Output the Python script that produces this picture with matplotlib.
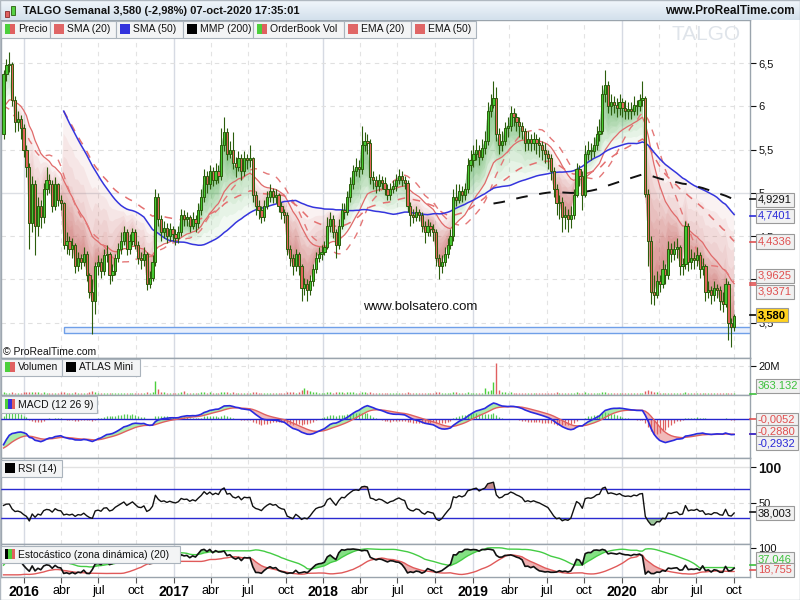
import numpy as np
import pandas as pd
import matplotlib
matplotlib.use("Agg")
import matplotlib.pyplot as plt
import matplotlib.dates as mdates
from matplotlib.patches import Rectangle
from matplotlib.lines import Line2D
from datetime import date, timedelta

plt.rcParams["font.family"] = ["Liberation Sans", "DejaVu Sans"]

# semanas anteriores al primer velón visible (solo para calentar los indicadores)
pre_close = [8.0, 7.8, 7.6, 7.4, 7.3, 7.2, 7.1, 7.0, 7.0, 7.0, 6.9, 6.9, 6.8, 6.8,
             6.6, 6.3, 6.4, 6.3, 6.1, 6.0, 5.7, 5.3, 5.0, 4.9, 5.0, 5.1, 5.3, 5.5]

opens = [
    5.68, 6.38, 6.48, 6.49, 6.07, 5.82, 5.85, 5.75, 5.50, 5.30,
    4.65, 5.10, 4.62, 4.85, 4.72, 5.05, 5.15, 5.10, 4.85, 5.10,
    4.92, 4.88, 4.40, 4.45, 4.35, 4.40, 4.15, 4.25, 4.20, 4.30,
    4.05, 3.85, 3.75, 4.15, 4.20, 4.10, 4.28, 4.30, 4.05, 4.10,
    4.25, 4.35, 4.45, 4.55, 4.35, 4.45, 4.55, 4.40, 4.25, 4.22,
    4.30, 3.95, 4.02, 4.20, 4.95, 4.70, 4.55, 4.60, 4.50, 4.58,
    4.52, 4.48, 4.55, 4.75, 4.70, 4.72, 4.62, 4.70, 4.65, 4.80,
    4.95, 5.20, 5.10, 5.25, 5.15, 5.25, 5.20, 5.55, 5.70, 5.45,
    5.50, 5.35, 5.30, 5.40, 5.25, 5.40, 5.38, 5.40, 4.98, 4.85,
    4.80, 4.72, 4.85, 4.95, 5.02, 4.95, 4.98, 4.85, 4.78, 4.75,
    4.35, 4.25, 4.15, 4.30, 4.15, 3.90, 3.95, 3.88, 3.98, 4.12,
    4.25, 4.30, 4.32, 4.38, 4.62, 4.70, 4.55, 4.40, 4.62, 4.80,
    4.78, 4.95, 5.10, 5.25, 5.30, 5.28, 5.55, 5.60, 5.58, 5.18,
    5.15, 5.08, 5.15, 5.12, 5.05, 4.98, 5.05, 5.08, 5.15, 5.20,
    5.15, 5.12, 4.85, 4.75, 4.72, 4.78, 4.75, 4.62, 4.55, 4.62,
    4.58, 4.55, 4.25, 4.15, 4.20, 4.30, 4.40, 4.50, 4.95, 4.92,
    5.02, 4.98, 5.05, 5.32, 5.38, 5.45, 5.50, 5.42, 5.52, 5.60,
    5.95, 6.02, 6.10, 5.68, 5.55, 5.60, 5.75, 5.78, 5.92, 5.88,
    5.82, 5.78, 5.72, 5.58, 5.62, 5.58, 5.62, 5.58, 5.55, 5.50,
    5.45, 5.40, 5.25, 5.05, 4.88, 4.90, 4.72, 4.75, 4.70, 4.75,
    4.98, 5.28, 5.20, 4.98, 5.45, 5.50, 5.48, 5.55, 5.68, 5.72,
    6.15, 6.25, 6.00, 6.05, 6.02, 5.98, 6.05, 5.98, 5.95, 5.97,
    5.95, 6.02, 6.00, 6.08, 6.10, 4.99, 4.45, 3.85, 3.82, 3.98,
    3.95, 4.12, 4.05, 4.35, 4.30, 4.35, 4.38, 4.15, 4.18, 4.62,
    4.20, 4.25, 4.22, 4.28, 4.12, 4.15, 3.85, 3.88, 3.82, 3.90,
    3.88, 3.75, 3.72, 3.95, 3.50, 3.45]

closes = [
    6.38, 6.48, 6.49, 6.07, 5.82, 5.85, 5.75, 5.50, 5.30, 4.65,
    5.10, 4.62, 4.85, 4.72, 5.05, 5.15, 5.10, 4.85, 5.10, 4.92,
    4.88, 4.40, 4.45, 4.35, 4.40, 4.15, 4.25, 4.20, 4.30, 4.05,
    3.85, 3.75, 4.15, 4.20, 4.10, 4.28, 4.30, 4.05, 4.10, 4.25,
    4.35, 4.45, 4.55, 4.35, 4.45, 4.55, 4.40, 4.25, 4.22, 4.30,
    3.95, 4.02, 4.20, 4.95, 4.70, 4.55, 4.60, 4.50, 4.58, 4.52,
    4.48, 4.55, 4.75, 4.70, 4.72, 4.62, 4.70, 4.65, 4.80, 4.95,
    5.20, 5.10, 5.25, 5.15, 5.25, 5.20, 5.55, 5.70, 5.45, 5.50,
    5.35, 5.30, 5.40, 5.25, 5.40, 5.38, 5.40, 4.98, 4.85, 4.80,
    4.72, 4.85, 4.95, 5.02, 4.95, 4.98, 4.85, 4.78, 4.75, 4.35,
    4.25, 4.15, 4.30, 4.15, 3.90, 3.95, 3.88, 3.98, 4.12, 4.25,
    4.30, 4.32, 4.38, 4.62, 4.70, 4.55, 4.40, 4.62, 4.80, 4.78,
    4.95, 5.10, 5.25, 5.30, 5.28, 5.55, 5.60, 5.58, 5.18, 5.15,
    5.08, 5.15, 5.12, 5.05, 4.98, 5.05, 5.08, 5.15, 5.20, 5.15,
    5.12, 4.85, 4.75, 4.72, 4.78, 4.75, 4.62, 4.55, 4.62, 4.58,
    4.55, 4.25, 4.15, 4.20, 4.30, 4.40, 4.50, 4.95, 4.92, 5.02,
    4.98, 5.05, 5.32, 5.38, 5.45, 5.50, 5.42, 5.52, 5.60, 5.95,
    6.02, 6.10, 5.68, 5.55, 5.60, 5.75, 5.78, 5.92, 5.88, 5.82,
    5.78, 5.72, 5.58, 5.62, 5.58, 5.62, 5.58, 5.55, 5.50, 5.45,
    5.40, 5.25, 5.05, 4.88, 4.90, 4.72, 4.75, 4.70, 4.75, 4.98,
    5.28, 5.20, 4.98, 5.45, 5.50, 5.48, 5.55, 5.68, 5.72, 6.15,
    6.25, 6.00, 6.05, 6.02, 5.98, 6.05, 5.98, 5.95, 5.97, 5.95,
    6.02, 6.00, 6.08, 6.10, 4.99, 4.45, 3.85, 3.82, 3.98, 3.95,
    4.12, 4.05, 4.35, 4.30, 4.35, 4.38, 4.15, 4.18, 4.62, 4.20,
    4.25, 4.22, 4.28, 4.12, 4.15, 3.85, 3.88, 3.82, 3.90, 3.88,
    3.75, 3.72, 3.95, 3.50, 3.45, 3.58]

highs = [
    6.42, 6.55, 6.63, 6.52, 6.12, 5.95, 5.90, 5.80, 5.55, 5.35,
    5.20, 5.15, 4.95, 4.92, 5.12, 5.30, 5.22, 5.15, 5.18, 5.12,
    4.98, 4.90, 4.55, 4.50, 4.48, 4.42, 4.32, 4.30, 4.38, 4.33,
    4.08, 4.00, 4.20, 4.28, 4.25, 4.35, 4.40, 4.32, 4.18, 4.30,
    4.42, 4.55, 4.62, 4.58, 4.52, 4.60, 4.58, 4.45, 4.32, 4.38,
    4.32, 4.10, 4.28, 5.05, 5.00, 4.75, 4.68, 4.65, 4.65, 4.62,
    4.58, 4.62, 4.82, 4.80, 4.78, 4.75, 4.78, 4.74, 4.88, 5.05,
    5.28, 5.25, 5.32, 5.30, 5.35, 5.32, 5.75, 5.88, 5.75, 5.60,
    5.70, 5.42, 5.48, 5.45, 5.48, 5.45, 5.55, 5.42, 5.02, 4.92,
    4.85, 4.92, 5.02, 5.10, 5.06, 5.05, 5.00, 4.90, 4.82, 4.78,
    4.40, 4.30, 4.35, 4.32, 4.18, 4.02, 4.00, 4.05, 4.18, 4.32,
    4.38, 4.40, 4.45, 4.72, 4.78, 4.74, 4.58, 4.70, 4.88, 4.88,
    5.02, 5.18, 5.32, 5.40, 5.38, 5.78, 5.70, 5.68, 5.62, 5.25,
    5.20, 5.22, 5.20, 5.18, 5.10, 5.12, 5.15, 5.22, 5.28, 5.25,
    5.20, 5.15, 4.90, 4.82, 4.85, 4.82, 4.78, 4.68, 4.70, 4.66,
    4.64, 4.58, 4.30, 4.28, 4.38, 4.48, 4.58, 5.05, 5.10, 5.10,
    5.08, 5.12, 5.40, 5.50, 5.55, 5.62, 5.55, 5.62, 5.72, 6.05,
    6.15, 6.30, 6.22, 5.75, 5.72, 5.82, 5.88, 6.00, 5.98, 5.92,
    5.88, 5.82, 5.75, 5.72, 5.68, 5.70, 5.68, 5.65, 5.60, 5.58,
    5.50, 5.45, 5.30, 5.10, 4.98, 4.95, 4.85, 4.82, 4.85, 5.05,
    5.35, 5.32, 5.25, 5.55, 5.60, 5.58, 5.65, 5.78, 5.85, 6.25,
    6.42, 6.30, 6.15, 6.12, 6.10, 6.15, 6.10, 6.08, 6.05, 6.05,
    6.12, 6.08, 6.15, 6.30, 6.12, 5.05, 4.50, 4.05, 4.10, 4.05,
    4.22, 4.18, 4.45, 4.42, 4.45, 4.48, 4.40, 4.25, 4.68, 4.65,
    4.35, 4.32, 4.38, 4.32, 4.25, 4.18, 3.98, 3.92, 3.98, 3.95,
    3.92, 3.85, 4.02, 3.98, 3.55, 3.60]

lows = [
    5.62, 6.30, 6.40, 6.00, 5.70, 5.72, 5.62, 5.42, 5.18, 4.35,
    4.55, 4.28, 4.50, 4.60, 4.65, 4.98, 5.00, 4.78, 4.80, 4.85,
    4.80, 4.35, 4.30, 4.28, 4.25, 4.08, 4.10, 4.12, 4.15, 3.98,
    3.78, 3.37, 3.60, 4.05, 4.02, 4.05, 4.20, 3.95, 3.98, 4.05,
    4.20, 4.30, 4.40, 4.28, 4.30, 4.40, 4.35, 4.18, 4.12, 4.15,
    3.88, 3.90, 3.98, 4.15, 4.62, 4.45, 4.48, 4.42, 4.45, 4.45,
    4.40, 4.42, 4.50, 4.62, 4.62, 4.55, 4.58, 4.55, 4.60, 4.75,
    4.90, 5.00, 5.05, 5.08, 5.10, 5.12, 5.15, 5.48, 5.38, 5.40,
    5.28, 5.18, 5.25, 5.15, 5.20, 5.28, 5.30, 4.90, 4.75, 4.70,
    4.65, 4.68, 4.82, 4.90, 4.88, 4.88, 4.78, 4.70, 4.65, 4.28,
    4.15, 4.05, 4.10, 4.05, 3.75, 3.82, 3.75, 3.82, 3.92, 4.08,
    4.20, 4.22, 4.28, 4.35, 4.55, 4.48, 4.25, 4.35, 4.58, 4.70,
    4.75, 4.90, 5.05, 5.20, 5.18, 5.22, 5.48, 5.45, 5.10, 5.05,
    5.00, 5.02, 5.05, 4.98, 4.92, 4.92, 5.00, 5.02, 5.10, 5.08,
    5.05, 4.78, 4.62, 4.65, 4.68, 4.68, 4.55, 4.42, 4.50, 4.50,
    4.45, 4.15, 4.00, 4.08, 4.15, 4.25, 4.35, 4.45, 4.85, 4.88,
    4.90, 4.92, 5.00, 5.25, 5.30, 5.38, 5.32, 5.38, 5.45, 5.55,
    5.88, 5.98, 5.60, 5.45, 5.48, 5.55, 5.65, 5.72, 5.78, 5.72,
    5.65, 5.62, 5.48, 5.50, 5.48, 5.50, 5.45, 5.42, 5.38, 5.35,
    5.28, 5.15, 4.95, 4.75, 4.70, 4.55, 4.58, 4.55, 4.60, 4.70,
    4.95, 5.08, 4.80, 4.95, 5.38, 5.38, 5.42, 5.50, 5.60, 5.68,
    6.05, 5.92, 5.90, 5.92, 5.88, 5.90, 5.88, 5.85, 5.86, 5.85,
    5.90, 5.90, 5.95, 6.00, 4.95, 4.15, 3.72, 3.70, 3.78, 3.85,
    3.90, 3.95, 4.00, 4.20, 4.22, 4.25, 4.05, 4.05, 4.12, 4.10,
    4.12, 4.12, 4.15, 4.02, 4.05, 3.75, 3.78, 3.72, 3.75, 3.78,
    3.65, 3.62, 3.68, 3.30, 3.22, 3.40]

# volumen semanal en millones de acciones
volumes = [
    1.2, 1.0, 0.9, 1.1, 1.0, 0.8, 0.9, 1.3, 1.2, 1.6, 1.4, 1.5, 1.1, 0.9, 1.2, 1.0,
    0.9, 1.0, 0.8, 0.9, 1.1, 1.3, 1.0, 0.9, 0.8, 1.1, 0.9, 0.8, 0.9, 1.0, 1.2, 2.0,
    1.4, 0.9, 0.8, 0.9, 0.8, 1.0, 0.8, 0.9, 0.8, 0.9, 1.0, 0.9, 0.8, 0.8, 0.9, 0.8,
    0.8, 0.9, 1.3, 1.0, 1.5, 9.0, 3.5, 1.6, 1.1, 1.0, 0.9, 0.8, 0.8, 0.9, 1.2, 2.4,
    1.0, 0.9, 0.8, 0.9, 1.0, 1.1, 1.3, 1.0, 1.1, 0.9, 1.0, 0.9, 1.6, 1.5, 1.2, 1.0,
    1.1, 0.9, 0.9, 1.0, 0.9, 0.8, 0.9, 1.4, 1.1, 0.9, 0.8, 0.9, 0.8, 0.8, 0.7, 0.8,
    0.8, 0.9, 0.8, 1.6, 1.3, 1.2, 1.0, 1.3, 2.5, 4.5, 3.0, 2.0, 1.4, 1.2, 1.0, 0.9,
    0.9, 1.5, 1.2, 1.0, 1.1, 1.3, 1.2, 1.0, 1.3, 1.2, 1.1, 1.0, 0.9, 1.6, 1.2, 1.0,
    1.5, 1.0, 0.9, 0.8, 0.8, 0.9, 0.8, 0.8, 0.7, 0.8, 0.9, 0.8, 0.8, 1.2, 1.0, 0.8,
    0.8, 0.7, 0.9, 1.0, 0.8, 0.7, 0.8, 1.3, 1.4, 1.0, 0.9, 0.9, 0.8, 1.6, 1.1, 0.9,
    0.8, 0.9, 1.3, 1.0, 1.0, 0.9, 0.8, 0.9, 4.0, 1.8, 3.0, 8.5, 22.0, 2.5, 1.5, 1.2,
    1.0, 1.1, 0.9, 0.8, 0.8, 0.7, 0.9, 0.8, 0.7, 0.7, 0.8, 0.7, 0.7, 0.8, 0.7, 0.9,
    1.0, 1.1, 0.9, 1.0, 0.8, 0.8, 0.7, 0.9, 1.2, 0.9, 1.0, 1.3, 0.9, 0.8, 0.8, 0.9,
    0.8, 1.4, 1.3, 1.0, 0.9, 0.8, 0.8, 0.7, 0.7, 0.8, 0.7, 0.7, 0.8, 0.7, 0.8, 0.9,
    2.4, 2.8, 2.0, 1.5, 1.2, 1.0, 0.9, 0.8, 1.0, 0.8, 0.7, 0.8, 0.8, 0.7, 1.1, 1.0,
    0.8, 0.7, 0.7, 0.8, 0.7, 1.0, 0.8, 0.7, 0.6, 0.7, 0.8, 0.7, 0.9, 1.0, 0.8, 0.4]

month_names = {4: "abr", 7: "jul", 10: "oct"}

o = np.array(opens); c = np.array(closes)
h = np.array(highs); l = np.array(lows)
vol = np.array(volumes)
n_pre = len(pre_close)
dates = [date(2015, 11, 12) + timedelta(weeks=i) for i in range(len(closes))]
x = mdates.date2num(dates)

# indicadores calculados sobre la serie completa
full = pd.Series(pre_close + closes)
full_h = pd.Series(pre_close + highs)
full_l = pd.Series(pre_close + lows)
sma20 = full.rolling(20).mean().values[n_pre:]
sma50_full = full.rolling(50).mean().values
sma50 = sma50_full[n_pre:]
ema20 = full.ewm(span=20, adjust=False).mean().values[n_pre:]

# EMA(50) arranca con el valor de la SMA(50)
ema50_full = np.full(len(full), np.nan)
ema50_full[49] = sma50_full[49]
a50 = 2 / 51
for j in range(50, len(full)):
    ema50_full[j] = ema50_full[j - 1] + a50 * (full.values[j] - ema50_full[j - 1])
ema50 = ema50_full[n_pre:]

w = np.arange(1, 201)
mmp200 = full.rolling(200).apply(lambda a: (a * w).sum() / w.sum(), raw=True).values[n_pre:]

macd_full = full.ewm(span=12, adjust=False).mean() - full.ewm(span=26, adjust=False).mean()
sig_full = macd_full.ewm(span=9, adjust=False).mean()
macd = macd_full.values[n_pre:]
sig = sig_full.values[n_pre:]
hist = macd - sig

delta = full.diff()
gain = delta.clip(lower=0).ewm(alpha=1 / 14, adjust=False).mean()
loss = (-delta.clip(upper=0)).ewm(alpha=1 / 14, adjust=False).mean()
rsi = (100 - 100 / (1 + gain / loss)).values[n_pre:]

hh = full_h.rolling(20).max()
ll = full_l.rolling(20).min()
k_full = 100 * (full - ll) / (hh - ll)
mid = k_full.rolling(20, min_periods=5).mean()
sd = k_full.rolling(20, min_periods=5).std()
stk = k_full.values[n_pre:]
zup = (mid + sd).clip(upper=100).values[n_pre:]
zdn = (mid - sd).clip(lower=0).values[n_pre:]

# ---------------------------------------------------------------
W, H = 800, 600
fig = plt.figure(figsize=(8, 6), dpi=100)
fig.patch.set_facecolor("white")


def fbox(x0, y0, x1, y1):
    return [x0 / W, 1 - y1 / H, (x1 - x0) / W, (y1 - y0) / H]


ax_p = fig.add_axes(fbox(1, 20, 750, 358))
ax_v = fig.add_axes(fbox(1, 358, 750, 395), sharex=ax_p)
ax_m = fig.add_axes(fbox(1, 395, 750, 458), sharex=ax_p)
ax_r = fig.add_axes(fbox(1, 458, 750, 544), sharex=ax_p)
ax_s = fig.add_axes(fbox(1, 544, 750, 577), sharex=ax_p)
axes = [ax_p, ax_v, ax_m, ax_r, ax_s]

px_day = 149.5 / 365.25
x_ref = mdates.date2num(date(2016, 1, 1))
ax_p.set_xlim(x_ref - 23 / px_day, x_ref + 726 / px_day)

years = [date(y, 1, 1) for y in range(2016, 2021)]
quarters = [date(y, m, 1) for y in range(2016, 2021) for m in (4, 7, 10)]
for ax in axes:
    for d in years:
        ax.axvline(mdates.date2num(d), color="#d6dae3", lw=1, zorder=0)
    for d in quarters:
        ax.axvline(mdates.date2num(d), color="#e3e3e3", lw=0.8, ls=(0, (4, 4)), zorder=0)
    for s in ax.spines.values():
        s.set_color("#9aa4ad")
        s.set_linewidth(1)
    ax.tick_params(axis="x", bottom=False, labelbottom=False)
    ax.yaxis.tick_right()
    ax.tick_params(axis="y", direction="out", length=4, width=0.8, pad=2,
                   labelsize=8, colors="#111111")

# ---------------- precio ----------------
ax_p.set_ylim(3.092, 7.0)
for yv in [3.5, 4, 4.5, 5.5, 6, 6.5]:
    ax_p.axhline(yv, color="#e0e0e0", lw=0.8, ls=(0, (4, 4)), zorder=0)
ax_p.axhline(5.0, color="#dcdfe4", lw=1, zorder=0)
ax_p.set_yticks([3.5, 4, 4.5, 5, 5.5, 6, 6.5])
ax_p.set_yticklabels(["3,5", "", "4,5", "5", "5,5", "6", "6,5"])

ax_p.add_patch(Rectangle((x_ref + (64 - 24) / px_day, 3.38), 2000, 0.065,
                         facecolor="#e8effc", edgecolor="#6f9fe8", lw=1, zorder=1))

green_f = "#3fa63f"
red_f = "#c24a45"


def zone(ax, xs, base, line):
    valid = ~np.isnan(line)
    line = np.where(valid, line, base)
    for frac in (1.0, 0.83, 0.66, 0.5, 0.33, 0.17):
        edge = base + (line - base) * frac
        ax.fill_between(xs, base, edge, where=valid & (base >= line), color=green_f,
                        alpha=0.068, lw=0, interpolate=True, zorder=2)
        ax.fill_between(xs, base, edge, where=valid & (base < line), color=red_f,
                        alpha=0.068, lw=0, interpolate=True, zorder=2)


zone(ax_p, x, c, ema20)
zone(ax_p, x, c, sma50)

ax_p.plot(x, ema20, color="#e06a6a", lw=0.9, zorder=3)
ax_p.plot(x, sma20, color="#e47878", lw=1.0, ls=(0, (5, 5)), zorder=3)
ax_p.plot(x, ema50, color="#e47070", lw=1.1, ls=(0, (5, 5)), zorder=3)
ax_p.plot(x, sma50, color="#3535dd", lw=1.1, zorder=4)
ax_p.plot(x, mmp200, color="#111111", lw=1.4, ls=(0, (6, 6)), zorder=4)

up = c >= o
ax_p.vlines(x, l, h, color="#2b5d0c", lw=0.8, zorder=5)
ax_p.bar(x, np.maximum(np.abs(c - o), 0.012), bottom=np.minimum(o, c), width=5.4,
         color=np.where(up, "#46c932", "#e0655a"), edgecolor="#2b5d0c",
         linewidth=0.7, zorder=6)

# ---------------- volumen ----------------
ax_v.set_ylim(-0.7, 25.4)
ax_v.axhline(20, color="#e0e0e0", lw=0.8, ls=(0, (4, 4)), zorder=0)
ax_v.vlines(x, 0, vol, colors=np.where(up, "#4ccf3c", "#e06060"), lw=1, zorder=3)
ax_v.set_yticks([20])
ax_v.set_yticklabels(["20M"])

# ---------------- MACD ----------------
ax_m.set_ylim(-0.744, 0.467)
ax_m.fill_between(x, macd, sig, where=macd >= sig, color="#66dd66", alpha=0.55,
                  lw=0, interpolate=True, zorder=2)
ax_m.fill_between(x, macd, sig, where=macd < sig, color="#e68080", alpha=0.55,
                  lw=0, interpolate=True, zorder=2)
ax_m.vlines(x, 0, hist, colors=np.where(hist >= 0, "#55cc55", "#e06060"), lw=0.9, zorder=2)
ax_m.axhline(0, color="#2424cc", lw=1, zorder=3)
ax_m.plot(x, sig, color="#e06060", lw=1, zorder=4)
ax_m.plot(x, macd, color="#2a2ae0", lw=1.2, zorder=5)
ax_m.set_yticks([])

# ---------------- RSI ----------------
ax_r.set_ylim(-6.5, 112.9)
ax_r.axhline(100, color="#e2e2e2", lw=1, zorder=0)
ax_r.axhline(50, color="#dcdcdc", lw=0.8, ls=(0, (4, 4)), zorder=0)
ax_r.fill_between(x, rsi, 70, where=rsi > 70, color="#a04040", alpha=0.6, lw=0,
                  interpolate=True, zorder=2)
ax_r.fill_between(x, rsi, 30, where=rsi < 30, color="#5aa05a", alpha=0.6, lw=0,
                  interpolate=True, zorder=2)
ax_r.axhline(70, color="#2a2ad0", lw=1, zorder=3)
ax_r.axhline(30, color="#2a2ad0", lw=1, zorder=3)
ax_r.plot(x, rsi, color="#111111", lw=1, zorder=4)
ax_r.set_yticks([50, 100])
ax_r.set_yticklabels(["50", "100"])
ax_r.get_yticklabels()[1].set_fontweight("bold")
ax_r.get_yticklabels()[1].set_fontsize(10)

# ---------------- Estocástico ----------------
ax_s.set_ylim(-8, 114)
ax_s.fill_between(x, stk, zup, where=stk > zup, color="#33cc33", alpha=0.6, lw=0,
                  interpolate=True, zorder=2)
ax_s.fill_between(x, stk, zdn, where=stk < zdn, color="#e07070", alpha=0.55, lw=0,
                  interpolate=True, zorder=2)
ax_s.plot(x, zup, color="#44cc44", lw=1, zorder=3)
ax_s.plot(x, zdn, color="#e05a5a", lw=1, zorder=3)
ax_s.plot(x, stk, color="#111111", lw=1.2, zorder=4)
ax_s.set_yticks([100])
ax_s.set_yticklabels(["100"])

ticks = sorted(years + quarters)
ax_s.set_xticks([mdates.date2num(d) for d in ticks])
ax_s.set_xticklabels([str(d.year) if d.month == 1 else month_names[d.month] for d in ticks])
ax_s.tick_params(axis="x", bottom=True, labelbottom=True, direction="out", length=4,
                 width=0.8, color="#555555", pad=2, labelsize=9)
for lab, d in zip(ax_s.get_xticklabels(), ticks):
    if d.month == 1:
        lab.set_fontweight("bold")
        lab.set_fontsize(10)

# ---------------- barra de título ----------------
ax_t = fig.add_axes([0, 1 - 20 / H, 1, 20 / H])
grad = np.linspace(0, 1, 20).reshape(-1, 1)
ax_t.imshow(grad, aspect="auto", cmap=matplotlib.colors.LinearSegmentedColormap.from_list(
    "tb", ["#f1f6fb", "#d3e0ec"]), extent=[0, 1, 0, 1])
ax_t.set_axis_off()
fig.patches.append(Rectangle((5 / W, 1 - 17 / H), 4 / W, 6 / H, transform=fig.transFigure,
                             facecolor="#e06060", edgecolor="#8a2a2a", lw=0.6))
fig.patches.append(Rectangle((11 / W, 1 - 15 / H), 4 / W, 9 / H, transform=fig.transFigure,
                             facecolor="#55d044", edgecolor="#2b5d0c", lw=0.6))
fig.text(23 / W, 1 - 11 / H, "TALGO Semanal 3,580 (-2,98%) 07-oct-2020 17:35:01",
         fontsize=8, fontweight="bold", color="#111111", va="center", zorder=20)
fig.text(795 / W, 1 - 11 / H, "www.ProRealTime.com", fontsize=8.5, fontweight="bold",
         color="#111111", va="center", ha="right", zorder=20)


def cell(x0, x1, y0, y1, label, icon):
    fig.patches.append(Rectangle((x0 / W, 1 - y1 / H), (x1 - x0) / W, (y1 - y0) / H,
                                 transform=fig.transFigure, facecolor="#f3f4f5",
                                 edgecolor="#aab3bc", lw=0.8, zorder=10))
    n = len(icon)
    for j, col in enumerate(icon):
        fig.patches.append(Rectangle(((x0 + 4 + j * 10 / n) / W, 1 - (y0 + 13) / H),
                                     (10 / n) / W, 10 / H, transform=fig.transFigure,
                                     facecolor=col, edgecolor="none", zorder=11))
    fig.text((x0 + 17) / W, 1 - (y0 + 8.5) / H, label, fontsize=7.5, color="#111111",
             va="center", zorder=12)


gr, rd = "#4ccf3c", "#e06060"
cell(1, 50, 21, 38, "Precio", [gr, rd])
cell(50, 116, 21, 38, "SMA (20)", ["#e06666"])
cell(116, 183, 21, 38, "SMA (50)", ["#3333dd"])
cell(183, 253, 21, 38, "MMP (200)", ["#000000"])
cell(253, 344, 21, 38, "OrderBook Vol", [gr, rd])
cell(344, 411, 21, 38, "EMA (20)", ["#e06666"])
cell(411, 476, 21, 38, "EMA (50)", ["#e06666"])
cell(1, 62, 359, 376, "Volumen", [gr, rd])
cell(62, 140, 359, 376, "ATLAS Mini", ["#000000"])
cell(1, 97, 396, 413, "MACD (12 26 9)", [gr, "#3333dd", rd])
cell(1, 62, 460, 477, "RSI (14)", ["#000000"])
cell(1, 180, 546, 563, "Estocástico (zona dinámica) (20)", ["#000000", gr, rd])

fig.text(706 / W, 1 - 35 / H, "TALGO", fontsize=15, color="#dfe4ea", ha="center",
         va="center", zorder=1)
fig.text(363 / W, 1 - 307 / H, "www.bolsatero.com", fontsize=9.5, color="#111111",
         va="center", zorder=12)
fig.text(3 / W, 1 - 352 / H, "© ProRealTime.com", fontsize=7.5, color="#111111",
         va="center", zorder=12)


def rlabel(ypx, text, color, tick_y=None, bg="#f1f1f1", weight="normal"):
    if tick_y is not None:
        fig.lines.append(Line2D([750 / W, 756 / W], [1 - tick_y / H] * 2,
                                transform=fig.transFigure, color=color, lw=1.2, zorder=12))
    fig.text(758 / W, 1 - ypx / H, text, color=color, fontsize=8, va="center",
             ha="left", fontweight=weight, zorder=13,
             bbox=dict(boxstyle="square,pad=0.22", fc=bg, ec="#9a9a9a", lw=0.8))


rlabel(200, "4,9291", "#111111", 199)
rlabel(216, "4,7401", "#2a2ad8", 216)
rlabel(241.5, "4,4336", "#e05050", 242)
rlabel(276, "3,9625", "#e05050", 283)
rlabel(292, "3,9371", "#e05050", 285)
rlabel(315, "3,580", "#000000", 315, bg="#ffd21f", weight="bold")
rlabel(386, "363.132", "#3cc03c", 394)
rlabel(420, "-0,0052", "#e05050", 419)
rlabel(432, "-0,2880", "#e05050", 434)
rlabel(443, "-0,2932", "#2a2ad8", 434)
rlabel(513, "38,003", "#111111", 512)
rlabel(559, "37,046", "#3cc03c", 565)
rlabel(570, "18,755", "#e05050", 570)

fig.patches.append(Rectangle((0, 0), 1, 1, transform=fig.transFigure, fill=False,
                             edgecolor="#b0b8c0", lw=1, zorder=30))

fig.savefig("out.png", dpi=100)
